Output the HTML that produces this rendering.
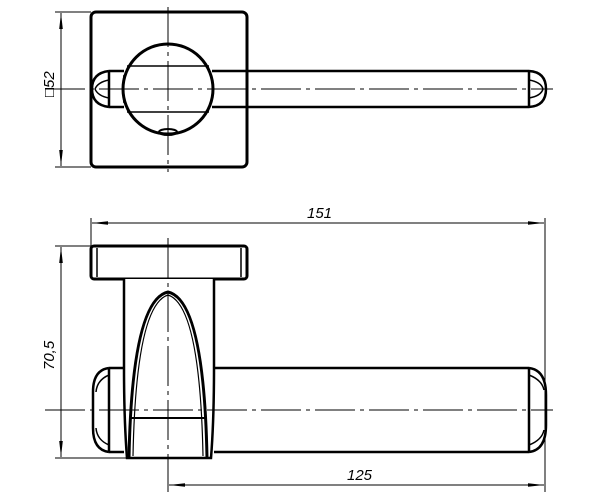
<!DOCTYPE html>
<html><head><meta charset="utf-8"><style>
html,body{margin:0;padding:0;background:#fff;}
svg{display:block;}
text{font-family:"Liberation Sans","DejaVu Sans",sans-serif;font-style:italic;font-size:15px;fill:#000;}
</style></head><body>
<svg width="600" height="500" viewBox="0 0 600 500" xmlns="http://www.w3.org/2000/svg">
<defs>
<marker id="a" viewBox="0 0 16 6" refX="16" refY="3" markerWidth="16" markerHeight="6" markerUnits="userSpaceOnUse" orient="auto-start-reverse">
<path d="M0,1.2 L16,3 L0,4.8 Z" fill="#000"/></marker>
</defs>
<g fill="none" stroke="#000">
<!-- TOP VIEW -->
<rect x="91" y="12" width="156" height="155" rx="5" stroke-width="3"/>
<path d="M212,71 H529 M212,107 H529 M529,71 V107" stroke-width="2.5"/>
<path d="M529,71 Q546,72 546,89 Q546,106 529,107" stroke-width="2.5"/>
<path d="M529,80 Q541,82 543,89" stroke-width="1.5"/>
<path d="M529,98 Q541,96 543,89" stroke-width="1.5"/>
<path d="M124,71 H109 M124,107 H109 M109,71 V107" stroke-width="2.5"/>
<path d="M109,71 Q92,73 92,89 Q92,105 109,107" stroke-width="2.5"/>
<path d="M109,80 Q98,82 95,89" stroke-width="1.5"/>
<path d="M109,98 Q98,96 95,89" stroke-width="1.5"/>
<circle cx="168" cy="89" r="45" fill="#fff" stroke-width="3"/>
<path d="M127,66 H209 M127,112 H209" stroke-width="1.5"/>
<path d="M124,75 Q122,89 124,103" stroke-width="1.5"/>
<ellipse cx="168" cy="132" rx="9" ry="3" stroke-width="2"/>
<path d="M45,89 H553" stroke-width="1" stroke-dasharray="40,5,4,5"/>
<path d="M168,7 V172" stroke-width="1" stroke-dasharray="40,5,4,5"/>
<path d="M55,12 H91 M55,167 H91" stroke-width="1"/>
<path d="M61,13 V166" stroke-width="1" marker-start="url(#a)" marker-end="url(#a)"/>

<!-- SIDE VIEW -->
<path d="M91,218 V246 M545,218 V492" stroke-width="1"/>
<path d="M92,223 H544" stroke-width="1" marker-start="url(#a)" marker-end="url(#a)"/>
<rect x="91" y="246" width="156" height="33" rx="3" stroke-width="3"/>
<path d="M97,248 V277 M241,248 V277" stroke-width="1.5"/>
<path d="M214,368 H529 M214,452 H529 M529,368 V452" stroke-width="2.5"/>
<path d="M529,368 Q546,370 546,395 V425 Q546,450 529,452" stroke-width="2.5"/>
<path d="M529,375 Q542,380 544,390 M529,445 Q542,440 544,430" stroke-width="1.5"/>
<path d="M124,368 H109 M124,452 H109 M109,368 V452" stroke-width="2.5"/>
<path d="M109,368 Q93,370 93,392 V428 Q93,450 109,452" stroke-width="2.5"/>
<path d="M109,375 Q97,380 96,392 M109,445 Q97,440 96,428" stroke-width="1.5"/>
<path d="M124,279 V368 Q124,420 127,458 H211 Q214,420 214,368 V279" fill="#fff" stroke-width="2.5"/>
<path d="M129,458 Q132,300 168,292 Q204,300 207,458" stroke-width="3"/>
<path d="M133,456 Q136,305 168,295 Q200,305 203,456" stroke-width="1.2"/>
<path d="M130,418 H206" stroke-width="2"/>
<path d="M45,410 H553" stroke-width="1" stroke-dasharray="40,5,4,5"/>
<path d="M168,238 V492" stroke-width="1" stroke-dasharray="40,5,4,5"/>
<path d="M55,246 H91 M55,458 H126" stroke-width="1"/>
<path d="M61,247 V457" stroke-width="1" marker-start="url(#a)" marker-end="url(#a)"/>
<path d="M169,485 H544" stroke-width="1" marker-start="url(#a)" marker-end="url(#a)"/>
</g>
<text x="307" y="218">151</text>
<text x="347" y="480">125</text>
<text transform="translate(54,370) rotate(-90)">70,5</text>
<text transform="translate(54,97) rotate(-90)">□52</text>
</svg>
</body></html>
